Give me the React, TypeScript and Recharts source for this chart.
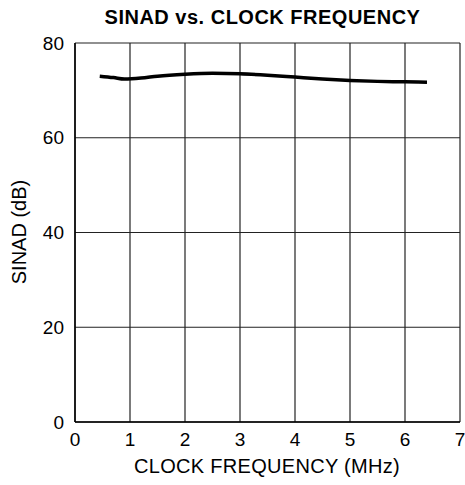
import { LineChart, Line, XAxis, YAxis, CartesianGrid } from 'recharts';

// clock frequency (MHz) vs SINAD (dB)
const freqMHz = [0.45, 0.7, 0.9, 1.2, 1.5, 2, 2.5, 3, 3.5, 4, 4.5, 5, 5.5, 6, 6.4];
const sinadDb = [73.0, 72.7, 72.4, 72.6, 73.0, 73.4, 73.6, 73.5, 73.2, 72.8, 72.4, 72.1, 71.9, 71.8, 71.7];

const xTicks = [0, 1, 2, 3, 4, 5, 6, 7];
const yTicks = [0, 20, 40, 60, 80];

const data = freqMHz.map((f, i) => ({ f, sinad: sinadDb[i] }));

const font = '"Liberation Sans", Arial, sans-serif';

export default function App() {
  return (
    <div style={{ position: 'absolute', left: 0, top: 0, width: 465, height: 485, fontFamily: font, background: '#fff' }}>
      <div style={{ position: 'absolute', left: 0, width: 525, top: 6, textAlign: 'center', fontWeight: 'bold', fontSize: 20, letterSpacing: 0.5 }}>
        SINAD vs. CLOCK FREQUENCY
      </div>
      <div style={{ position: 'absolute', left: 0, width: 534, top: 455, textAlign: 'center', fontSize: 20, letterSpacing: 0.3 }}>
        CLOCK FREQUENCY (MHz)
      </div>
      <div
        style={{
          position: 'absolute',
          left: 19,
          top: 232,
          transform: 'translate(-50%, -50%) rotate(-90deg)',
          whiteSpace: 'nowrap',
          fontSize: 20,
        }}
      >
        SINAD (dB)
      </div>
      <LineChart
        width={465}
        height={485}
        data={data}
        margin={{ top: 43, right: 5, left: 45, bottom: 33 }}
        style={{ position: 'absolute', left: 0, top: 0 }}
      >
        <CartesianGrid stroke="#222" strokeWidth={1.2} />
        <XAxis
          dataKey="f"
          type="number"
          domain={[0, 7]}
          ticks={xTicks}
          height={30}
          tickLine={false}
          tickSize={0}
          tickMargin={11}
          axisLine={{ stroke: '#000', strokeWidth: 1.5 }}
          tick={{ fill: '#000', fontSize: 19, fontFamily: font }}
        />
        <YAxis
          type="number"
          domain={[0, 80]}
          ticks={yTicks}
          width={30}
          tickLine={false}
          tickSize={0}
          tickMargin={11}
          axisLine={{ stroke: '#000', strokeWidth: 1.5 }}
          tick={{ fill: '#000', fontSize: 19, fontFamily: font }}
        />
        <Line
          dataKey="sinad"
          type="monotone"
          stroke="#000"
          strokeWidth={3.5}
          dot={false}
          isAnimationActive={false}
        />
      </LineChart>
    </div>
  );
}
